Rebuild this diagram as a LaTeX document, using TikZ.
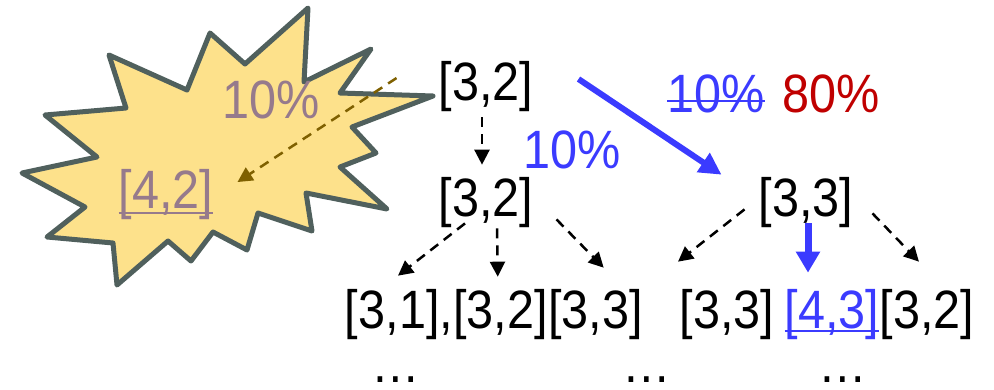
\documentclass[tikz,border=0pt]{standalone}
\usepackage{fontspec}
\setmainfont[FakeStretch=0.9]{Liberation Sans}
\usetikzlibrary{arrows.meta,positioning}

\definecolor{myblue}{HTML}{3B3BFF}
\definecolor{myred}{HTML}{C00000}
\definecolor{mauve}{HTML}{967A8C}
\definecolor{burst}{HTML}{FDE18B}
\definecolor{burstline}{HTML}{50605D}
\definecolor{mybrown}{HTML}{7F6000}

\tikzset{
  lbl/.style={inner sep=0pt, anchor=base, font=\fontsize{54}{60}\selectfont},
  dasharrow/.style={dash pattern=on 10pt off 7pt, line width=2.5pt,
    -{Triangle[length=15pt,width=15pt]}},
  bluearrow/.style={draw=myblue, line width=6pt,
    -{Triangle[length=22pt,width=22pt]}},
}

\begin{document}
\begin{tikzpicture}[x=1pt, y=-1pt, line join=round]
    \useasboundingbox (0,0) rectangle (994,389);

    % explosion
    \draw[fill=burst, draw=burstline, line width=5pt]
      (308,8) -- (304,82) -- (371,49) -- (340,93) -- (433,96) -- (352,127)
      -- (376,153) -- (340,167) -- (387,209) -- (306,193) -- (312,231)
      -- (258,213) -- (247,250) -- (213,232) -- (191,261) -- (168,241)
      -- (117,285) -- (113,243) -- (47,237) -- (85,207) -- (22,173)
      -- (97,157) -- (45,115) -- (126,108) -- (109,55) -- (187,90)
      -- (210,33) -- (245,64) -- cycle;

    % states
    \node[lbl] (top) at (486,100) {[3,2]};
    \node[lbl] (mid) at (486,216) {[3,2]};
    \node[lbl] (rgt) at (806,216) {[3,3]};
    \node[lbl, text=mauve] (bad) at (166,208) {[4,2]};
    \draw[mauve, line width=2.5pt] ([yshift=-5pt]bad.base west) -- ([yshift=-5pt]bad.base east);

    % next row
    \node[lbl] (a1) at (399,328) {[3,1],};
    \node[lbl, base right=0pt of a1] (a2) {[3,2]};
    \node[lbl, base right=0pt of a2] (a3) {[3,3]};
    \node[lbl] (b1) at (727,328) {[3,3]};
    \node[lbl, text=myblue] (b2) at (832,328) {[4,3]};
    \node[lbl, base right=0pt of b2] (b3) {[3,2]};
    \draw[myblue, line width=2.5pt] ([yshift=-3pt]b2.base west) -- ([yshift=-3pt]b2.base east);

    % dots
    \node[lbl] (d1) at (396,382) {…};
    \node[lbl] (d2) at (647,382) {…};
    \node[lbl] (d3) at (843,382) {…};

    % probabilities
    \node[lbl, text=mauve] (p4) at (271,118) {10\%};
    \node[lbl, text=myblue] (p1) at (572,168) {10\%};
    \node[lbl, text=myblue] (p2) at (716,112) {10\%};
    \draw[myblue, line width=2pt] ([yshift=11pt]p2.base west) -- ([yshift=11pt]p2.base east);
    \node[lbl, text=myred] (p3) at (831,112) {80\%};

    % arrows
    \draw[dasharrow, mybrown] ([xshift=-42pt,yshift=8pt]top.west) -- ([xshift=24pt,yshift=12pt]bad.east);
    \draw[dasharrow] ([xshift=-4pt,yshift=-6pt]top.south) -- ([xshift=-4pt,yshift=12pt]mid.north);
    \draw[bluearrow] ([xshift=45pt,yshift=7pt]top.east) -- ([xshift=-37pt,yshift=2pt]rgt.north west);

    \draw[dasharrow] ([xshift=-21pt,yshift=4pt]mid.south) -- ([xshift=-1pt,yshift=13pt]a1.north);
    \draw[dasharrow] ([xshift=11pt,yshift=-1pt]mid.south) -- ([xshift=-3pt,yshift=12pt]a2.north);
    \draw[dasharrow] ([xshift=23pt,yshift=8pt]mid.south east) -- ([xshift=8pt,yshift=21pt]a3.north);

    \draw[dasharrow] ([xshift=-14pt,yshift=18pt]rgt.south west) -- ([xshift=-49pt,yshift=27pt]b1.north);
    \draw[myblue, line width=7pt, -{Triangle[length=21pt,width=23pt]}]
      ([xshift=2pt,yshift=4pt]rgt.south) -- ([xshift=-24pt,yshift=16pt]b2.north);
    \draw[dasharrow] ([xshift=19pt,yshift=14pt]rgt.south east) -- ([xshift=-8pt,yshift=27pt]b3.north);
\end{tikzpicture}
\end{document}
